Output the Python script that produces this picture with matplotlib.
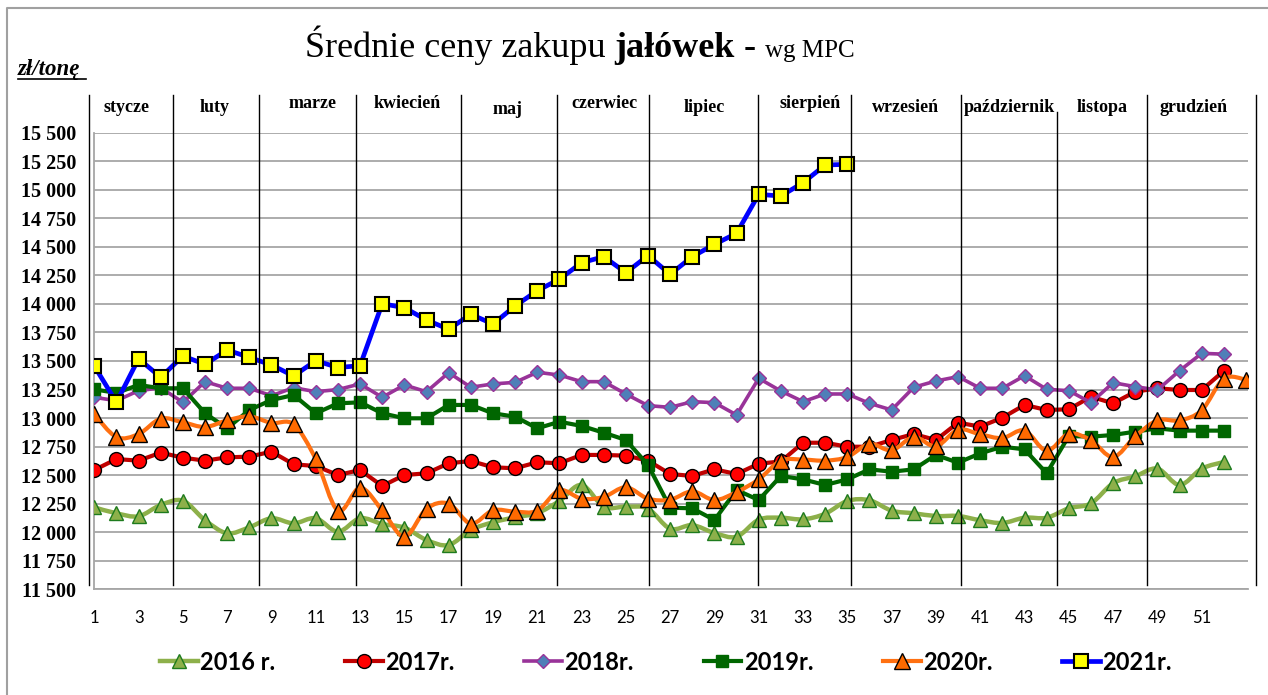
import numpy as np
import matplotlib
matplotlib.use('Agg')
import matplotlib.pyplot as plt
from matplotlib.lines import Line2D
from matplotlib.path import Path
from matplotlib.patches import PathPatch
import matplotlib.transforms as mtransforms

# data (zł/tonę, weekly)
p2016 = [12218, 12166, 12140, 12239, 12276, 12105, 11991, 12043, 12122, 12078,
         12122, 12005, 12122, 12072, 12040, 11932, 11888, 12020, 12087, 12131,
         12168, 12274, 12414, 12224, 12224, 12206, 12031, 12062, 11993, 11961,
         12110, 12127, 12113, 12162, 12274, 12280, 12189, 12166, 12142, 12142,
         12105, 12081, 12127, 12127, 12210, 12253, 12429, 12490, 12557, 12414,
         12557, 12615]
p2017 = [12545, 12641, 12627, 12697, 12653, 12627, 12656, 12662, 12706, 12595,
         12580, 12501, 12545, 12405, 12501, 12516, 12604, 12624, 12569, 12560,
         12613, 12604, 12677, 12677, 12671, 12627, 12510, 12493, 12551, 12510,
         12600, 12620, 12784, 12784, 12749, 12749, 12808, 12860, 12808, 12960,
         12925, 13003, 13115, 13071, 13077, 13187, 13129, 13231, 13261, 13246,
         13246, 13413]
p2018 = [13182, 13152, 13240, 13265, 13138, 13319, 13261, 13261, 13196, 13266,
         13231, 13250, 13299, 13182, 13290, 13231, 13398, 13270, 13299, 13313,
         13401, 13377, 13319, 13319, 13211, 13109, 13094, 13144, 13135, 13027,
         13348, 13237, 13144, 13211, 13211, 13129, 13071, 13270, 13325, 13363,
         13261, 13261, 13371, 13252, 13240, 13135, 13310, 13275, 13246, 13415,
         13567, 13560]
p2019 = [13252, 13220, 13290, 13261, 13261, 13042, 12910, 13071, 13158, 13202,
         13042, 13129, 13138, 13042, 12998, 12998, 13115, 13115, 13042, 13012,
         12910, 12968, 12931, 12872, 12808, 12589, 12215, 12209, 12107, 12370,
         12282, 12493, 12463, 12414, 12463, 12551, 12530, 12551, 12677, 12609,
         12691, 12749, 12726, 12516, 12843, 12837, 12852, 12881, 12910, 12890,
         12890, 12890]
p2020 = [13033, 12834, 12860, 12995, 12963, 12922, 12980, 13015, 12957, 12945,
         12641, 12189, 12390, 12192, 11961, 12206, 12250, 12075, 12192, 12180,
         12189, 12367, 12294, 12309, 12394, 12294, 12285, 12358, 12282, 12352,
         12463, 12627, 12636, 12627, 12659, 12773, 12718, 12834, 12753, 12898,
         12858, 12825, 12891, 12714, 12863, 12805, 12659, 12840, 12980, 12980,
         13068, 13345, 13336]
p2021 = [13456, 13138, 13520, 13357, 13544, 13471, 13596, 13532, 13465, 13369,
         13503, 13443, 13459, 14002, 13967, 13859, 13778, 13909, 13824, 13982,
         14116, 14216, 14361, 14414, 14274, 14423, 14260, 14414, 14522, 14619,
         14960, 14945, 15062, 15217, 15223]

months = ['stycze', 'luty', 'marze', 'kwiecień', 'maj', 'czerwiec', 'lipiec',
          'sierpień', 'wrzesień', 'październik', 'listopa', 'grudzień']
labels = ['2016 r.', '2017r.', '2018r.', '2019r.', '2020r.', '2021r.']

# layout of month separators (in week units) and month label pixel positions
month_lines = [0.76, 4.55, 8.44, 12.82, 17.54, 21.89, 26.06, 30.95, 35.15, 40.13, 44.45, 48.51, 53.43]
month_px = [126, 215, 313, 407, 508, 604, 704, 810, 906, 1009, 1102, 1194]
month_py = [107, 107, 104, 104, 110, 104, 107, 104, 107, 107, 107, 107]

W, H = 1268, 695
fig = plt.figure(figsize=(W / 100, H / 100), dpi=100)
ax = fig.add_axes([94.3 / W, (H - 589.3) / H, (1248 - 94.3) / W, 456.6 / H])

styles = [
    dict(color='#8DB04A', marker='^', ms=10, mfc='#8DB04A', mec='#1E7B1E', mew=1.0, lw=3.2),
    dict(color='#C00000', marker='o', ms=10, mfc='#FF0000', mec='#000000', mew=1.0, lw=3.0),
    dict(color='#993399', marker='D', ms=7, mfc='#4F7FB8', mec='#993399', mew=1.0, lw=2.6),
    dict(color='#006600', marker='s', ms=9, mfc='#006600', mec='#006600', mew=1.0, lw=3.0),
    dict(color='#FF7011', marker='^', ms=11, mfc='#FF6A00', mec='#000000', mew=1.0, lw=3.0),
    dict(color='#0000FF', marker='s', ms=10, mfc='#FFFF00', mec='#000000', mew=1.5, lw=3.4),
]
series = [p2016, p2017, p2018, p2019, p2020, p2021]
smooth = [True, False, False, False, True, False]


def smooth_path(x, y):
    pts = np.column_stack([x, y]).astype(float)
    n = len(pts)
    verts = [pts[0]]
    codes = [Path.MOVETO]
    for i in range(n - 1):
        p0 = pts[max(i - 1, 0)]
        p1 = pts[i]
        p2 = pts[i + 1]
        p3 = pts[min(i + 2, n - 1)]
        verts += [p1 + (p2 - p0) / 6, p2 - (p3 - p1) / 6, p2]
        codes += [Path.CURVE4] * 3
    return Path(verts, codes)


handles = []
for k, (vals, st, sm) in enumerate(zip(series, styles, smooth)):
    weeks = np.arange(1, len(vals) + 1)
    z = 3 + k
    if sm:
        ax.add_patch(PathPatch(smooth_path(weeks, vals), fill=False, edgecolor=st['color'],
                               lw=st['lw'], zorder=z, capstyle='round', joinstyle='round'))
        ax.plot(weeks, vals, ls='none', marker=st['marker'], ms=st['ms'], mfc=st['mfc'],
                mec=st['mec'], mew=st['mew'], zorder=z + 0.5)
    else:
        ax.plot(weeks, vals, zorder=z, solid_joinstyle='round', **st)
    handles.append(Line2D([], [], **st))

ax.set_xlim(1, 53.09)
ax.set_ylim(11500, 15500)
yt = np.arange(11500, 15501, 250)
ax.set_yticks(yt)
ax.set_yticklabels(['{:,}'.format(v).replace(',', ' ') for v in yt],
                   fontfamily='Liberation Serif', fontweight='bold', fontsize=14.5)
ax.set_xticks(range(1, 52, 2))
ax.set_xticklabels([str(v) for v in range(1, 52, 2)], fontfamily='Lato', fontsize=12)
ax.tick_params(axis='both', length=0)
ax.tick_params(axis='y', pad=13)
ax.tick_params(axis='x', pad=15)
ax.yaxis.grid(True, color='#A6A6A6', lw=1.3)
ax.set_axisbelow(True)
for s in ['top', 'right']:
    ax.spines[s].set_visible(False)
ax.spines['left'].set_color('#A6A6A6')
ax.spines['bottom'].set_color('#A6A6A6')
ax.spines['left'].set_linewidth(1.3)
ax.spines['bottom'].set_linewidth(1.3)

# month separators and names
trans = mtransforms.blended_transform_factory(ax.transData, ax.transAxes)
for i, m in enumerate(month_lines):
    top = 1.045 if i == 10 else 1.0826
    ax.plot([m, m], [0.0094, top], color='black', lw=1.0, transform=trans, clip_on=False, zorder=10)
for name, px, py in zip(months, month_px, month_py):
    fig.text(px / W, 1 - py / H, name, ha='center', va='center', fontfamily='Liberation Serif',
             fontweight='bold', fontsize=13)

# title in pieces
t1 = fig.text(305 / W, 1 - 57 / H, 'Średnie ceny zakupu ', fontfamily='Liberation Serif',
              fontsize=26, va='baseline')
t2 = ax.annotate('jałówek', xy=(1, 0), xycoords=t1, va='bottom', fontfamily='Liberation Serif',
                 fontweight='bold', fontsize=26, annotation_clip=False)
t3 = ax.annotate(' - ', xy=(1, 0), xycoords=t2, va='bottom', fontfamily='Liberation Serif',
                 fontweight='bold', fontsize=26, annotation_clip=False)
ax.annotate('wg MPC', xy=(1, 0), xycoords=t3, va='bottom', fontfamily='Liberation Serif',
            fontsize=18, annotation_clip=False, xytext=(0, 2), textcoords='offset points')

# unit label
fig.text(18 / W, 1 - 75 / H, 'zł/tonę', fontfamily='Liberation Serif', fontweight='bold',
         fontstyle='italic', fontsize=16.5, va='baseline')
fig.add_artist(Line2D([18 / W, 86 / W], [1 - 79 / H, 1 - 79 / H], color='black', lw=1.2))

# outer frame
fig.add_artist(Line2D([7 / W, 7 / W, 1.0], [0.0, 1 - 8 / H, 1 - 8 / H], color='#A0A0A0', lw=1.5))

fig.legend(handles, labels, loc='center', bbox_to_anchor=(666 / W, 1 - 662 / H), ncol=6,
           frameon=False, handlelength=1.6, handletextpad=0.1, columnspacing=2.95,
           prop=dict(family='Lato', weight='bold', size=17))

fig.savefig('out.png', dpi=100)
